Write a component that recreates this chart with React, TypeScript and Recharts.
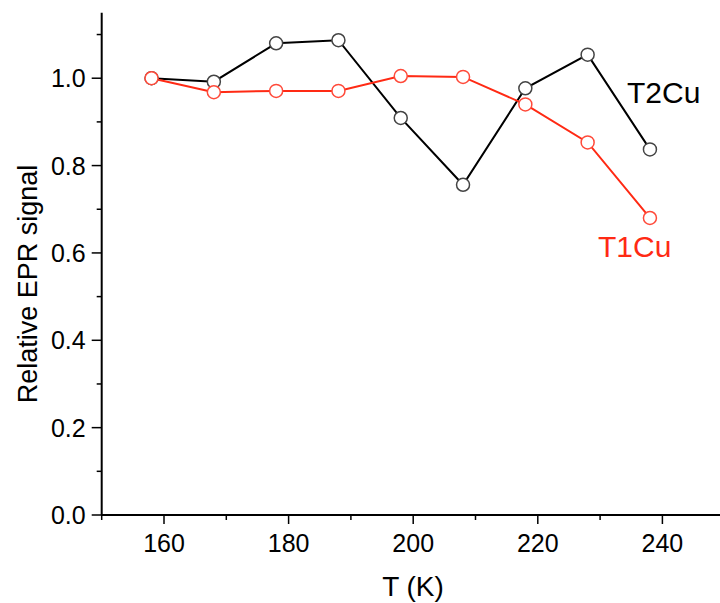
import React from 'react';
import { LineChart, Line, XAxis, YAxis, Customized } from 'recharts';

const temps = [158, 168, 178, 188, 198, 208, 218, 228, 238];
const t2cu = [1.0, 0.992, 1.08, 1.087, 0.909, 0.756, 0.977, 1.054, 0.837];
const t1cu = [1.0, 0.968, 0.971, 0.971, 1.005, 1.003, 0.94, 0.853, 0.68];

const xTicks = [150, 160, 170, 180, 190, 200, 210, 220, 230, 240, 250];
const yTicks = [0, 0.1, 0.2, 0.3, 0.4, 0.5, 0.6, 0.7, 0.8, 0.9, 1.0, 1.1];

const data = temps.map((t, i) => ({ t, t2: t2cu[i], t1: t1cu[i] }));

const FONT = '"Liberation Sans", Arial, sans-serif';
const RED = '#ff2a14';

function XTick(props: any) {
  const { x, y, payload } = props;
  const v = payload.value;
  const major = v % 20 === 0;
  return (
    <g>
      <line x1={x} y1={y} x2={x} y2={y + (major ? 9 : 5)} stroke="#000" strokeWidth={1.5} />
      {major && (
        <text x={x} y={y + 37} textAnchor="middle" fontSize={25} fontFamily={FONT} fill="#000">
          {v}
        </text>
      )}
    </g>
  );
}

function YTick(props: any) {
  const { x, y, payload } = props;
  const v = payload.value;
  const major = Math.round(v * 10) % 2 === 0;
  return (
    <g>
      <line x1={x} y1={y} x2={x - (major ? 10 : 5)} y2={y} stroke="#000" strokeWidth={1.5} />
      {major && (
        <text x={x - 16} y={y + 9} textAnchor="end" fontSize={25} fontFamily={FONT} fill="#000">
          {v.toFixed(1)}
        </text>
      )}
    </g>
  );
}

function Texts() {
  return (
    <g fontFamily={FONT}>
      <text x={413} y={596} textAnchor="middle" fontSize={28} fill="#000">T (K)</text>
      <text
        x={37}
        y={284}
        textAnchor="middle"
        fontSize={27}
        fill="#000"
        transform="rotate(-90 37 284)"
      >
        Relative EPR signal
      </text>
      <text x={627} y={103} fontSize={30} fill="#000">T2Cu</text>
      <text x={598} y={257} fontSize={30} fill={RED}>T1Cu</text>
    </g>
  );
}

export default function App() {
  return (
    <div style={{ position: 'absolute', left: 0, top: 0, width: 720, height: 603, overflow: 'hidden', background: '#fff' }}>
      <LineChart
        width={740}
        height={603}
        data={data}
        margin={{ top: 12.7, right: 15.3, left: 0, bottom: 0 }}
      >
        <XAxis
          dataKey="t"
          type="number"
          domain={[150, 250]}
          ticks={xTicks}
          interval={0}
          tickSize={0}
          tickMargin={0}
          tick={<XTick />}
          height={88}
          axisLine={{ stroke: '#000', strokeWidth: 2 }}
        />
        <YAxis
          type="number"
          domain={[0, 1.15]}
          ticks={yTicks}
          interval={0}
          tickSize={0}
          tickMargin={0}
          tick={<YTick />}
          width={101.7}
          allowDataOverflow
          axisLine={{ stroke: '#000', strokeWidth: 2 }}
        />
        <Line
          dataKey="t2"
          stroke="#000"
          strokeWidth={2}
          isAnimationActive={false}
          dot={{ r: 6.5, fill: '#fff', stroke: '#444', strokeWidth: 1.5 }}
          activeDot={false}
        />
        <Line
          dataKey="t1"
          stroke={RED}
          strokeWidth={2}
          isAnimationActive={false}
          dot={{ r: 6.5, fill: '#fff', stroke: '#ff4a3a', strokeWidth: 1.5 }}
          activeDot={false}
        />
        <Customized component={Texts} />
      </LineChart>
    </div>
  );
}
